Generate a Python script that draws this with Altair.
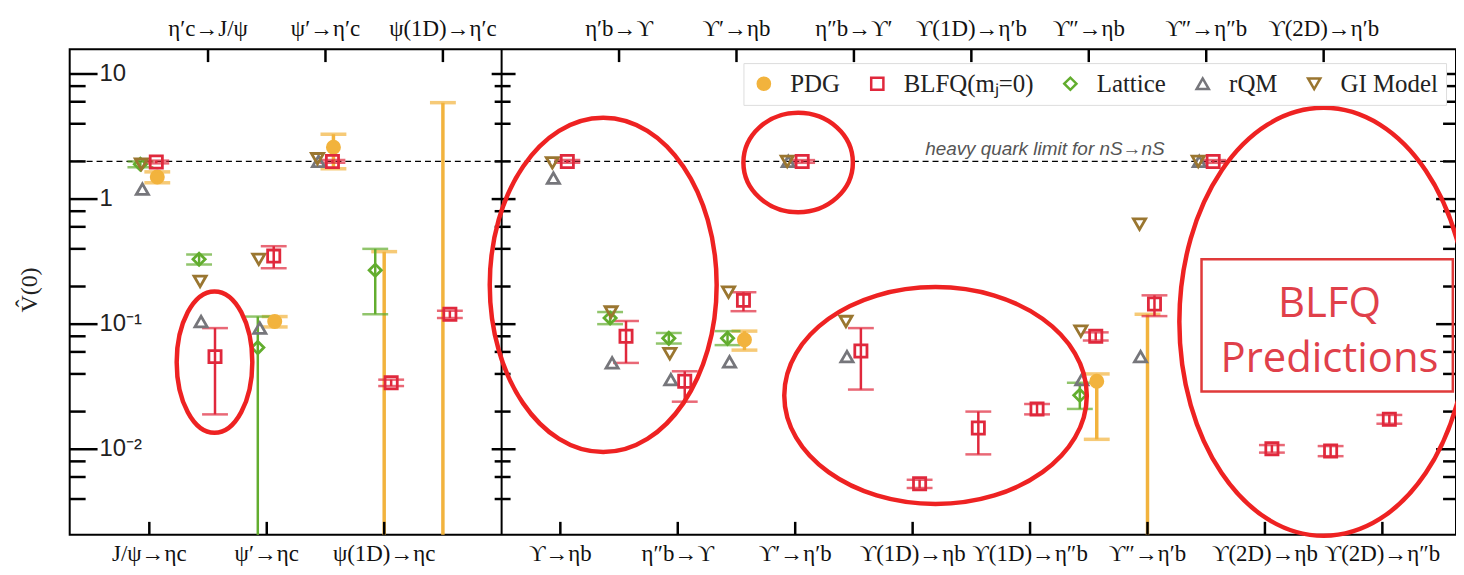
import altair as alt
import pandas as pd

# ------------------------------------------------------------------ data
charm_transitions = ["J/ψ→ηc", "η′c→J/ψ", "ψ′→ηc", "ψ′→η′c", "ψ(1D)→ηc", "ψ(1D)→η′c"]
bottom_transitions = ["ϒ→ηb", "η′b→ϒ", "η″b→ϒ", "ϒ′→ηb", "ϒ′→η′b", "η″b→ϒ′",
                      "ϒ(1D)→ηb", "ϒ(1D)→η′b", "ϒ(1D)→η″b", "ϒ″→ηb", "ϒ″→η′b",
                      "ϒ″→η″b", "ϒ(2D)→ηb", "ϒ(2D)→η′b", "ϒ(2D)→η″b"]
transitions = charm_transitions + bottom_transitions

N = None
# order of every list: 6 charmonium transitions, then 15 bottomonium transitions
pdg_val = [1.50, N, 0.105, 2.60, N, N,
           N, N, N, 0.075, N, N, N, N, N, 0.035, N, N, N, N, N]
pdg_lo = [1.35, N, 0.095, 1.75, 0.001, 0.001,
          N, N, N, 0.062, N, N, N, N, N, 0.012, 0.001, N, N, N, N]
pdg_hi = [1.65, N, 0.115, 3.30, 0.38, 5.9,
          N, N, N, 0.088, N, N, N, N, N, 0.040, 0.12, N, N, N, N]

lat_val = [1.90, 0.33, 0.065, N, 0.27, N,
           N, 0.112, 0.077, 0.077, N, N, N, N, N, 0.027, N, N, N, N, N]
lat_lo = [1.80, 0.30, 0.001, N, 0.12, N,
          N, 0.100, 0.070, 0.068, N, N, N, N, N, 0.021, N, N, N, N, N]
lat_hi = [2.00, 0.36, 0.115, N, 0.40, N,
          N, 0.125, 0.085, 0.088, N, N, N, N, N, 0.034, N, N, N, N, N]

rqm_val = [1.20, 0.105, 0.093, 2.00, N, N,
           1.47, 0.049, 0.036, 0.050, 2.00, 0.055, N, N, N, 0.036, 0.055, 2.00, N, N, N]
gi_val = [1.90, 0.22, 0.33, 2.10, N, N,
          1.95, 0.125, 0.058, 0.18, 2.00, 0.105, N, N, N, 0.088, 0.63, 2.00, N, N, N]

blfq_val = [1.98, 0.055, 0.35, 2.00, 0.034, 0.120,
            2.00, 0.080, 0.035, 0.155, 2.00, 0.061, 0.0053, 0.0148, 0.021,
            0.080, 0.145, 2.00, 0.0101, 0.0097, 0.0174]
blfq_lo = [1.93, 0.019, 0.28, 1.95, 0.032, 0.112,
           1.95, 0.049, 0.024, 0.127, 1.95, 0.030, 0.0049, 0.0091, 0.019,
           0.074, 0.116, 1.95, 0.0094, 0.0088, 0.0160]
blfq_hi = [2.03, 0.093, 0.42, 2.05, 0.036, 0.128,
           2.05, 0.106, 0.042, 0.180, 2.05, 0.093, 0.0057, 0.020, 0.023,
           0.086, 0.170, 2.05, 0.0108, 0.0106, 0.0188]

series_names = ["PDG", "BLFQ(mⱼ=0)", "Lattice", "rQM", "GI Model"]
heavy_quark_limit = 2.0

major_ticks = [0.01, 0.1, 1, 10]
major_labels = ["10⁻²", "10⁻¹", "1", "10"]
minor_ticks = [0.004, 0.006, 0.008, 0.02, 0.04, 0.06, 0.08,
               0.2, 0.4, 0.6, 0.8, 2, 4, 6, 8]

# annotations (centre in data coords)
ellipses = [  # x, value, rx(px), ry(px)
    (1.11, 0.0497, 38, 71),
    (7.73, 0.206, 114, 168),
    (11.05, 1.96, 55, 50),
    (13.39, 0.0269, 152, 109),
    (20.0, 0.1044, 145, 215),
]
box = {"x": [17.92], "x2": [22.2], "v": [0.331], "v2": [0.029]}
box_lines = ["BLFQ", "Predictions"]
box_line_v = [0.1144, 0.0418]
box_text_x = 20.1
limit_text = "heavy quark limit for nS→nS"
limit_text_x = 17.29

# ------------------------------------------------------------------ layout / style
W, H = 1393, 488
XMIN, XMAX = -1.356, 22.254
YMIN, YMAX = 0.00207, 15.8
PX = W / (XMAX - XMIN)

C_PDG = "#f2b33d"
C_BLFQ = "#e0283c"
C_LAT = "#62ad2e"
C_RQM = "#76767b"
C_GI = "#9a7630"
C_ELL = "#ee2222"
SERIF = "Liberation Serif"
SANS = "Liberation Sans"

cat_x = list(range(6)) + list(range(7, 22))
divider_x = 6
dodge = {"PDG": 8, "PDGlim": 0, "Lattice": -9, "rQM": -7, "GI Model": -8, "BLFQ(mⱼ=0)": 7}

xs = alt.Scale(domain=[XMIN, XMAX], nice=False, zero=False)
ys = alt.Scale(type="log", domain=[YMIN, YMAX], nice=False, clamp=True)


def X(f="x"):
    return alt.X(f"{f}:Q", scale=xs, axis=None)


def Y(f="v"):
    return alt.Y(f"{f}:Q", scale=ys, axis=None)


# points
rows = []
for name, vals in [("PDG", pdg_val), ("Lattice", lat_val), ("rQM", rqm_val),
                   ("GI Model", gi_val), ("BLFQ(mⱼ=0)", blfq_val)]:
    for i, v in enumerate(vals):
        if v is not None:
            rows.append({"series": name, "x": cat_x[i] + dodge[name] / PX, "v": v})
pts = pd.DataFrame(rows)


# error bars
def err_df(vals, lo, hi, name):
    out = []
    for i in range(len(lo)):
        if lo[i] is None:
            continue
        key = name if (vals[i] is not None) else ("PDGlim" if name == "PDG" else name)
        out.append({"x": cat_x[i] + dodge[key] / PX, "lo": lo[i], "hi": hi[i]})
    return pd.DataFrame(out)


err_pdg = err_df(pdg_val, pdg_lo, pdg_hi, "PDG")
err_lat = err_df(lat_val, lat_lo, lat_hi, "Lattice")
err_blfq = err_df(blfq_val, blfq_lo, blfq_hi, "BLFQ(mⱼ=0)")


def err_layers(df, color, width):
    bars = alt.Chart(df).mark_rule(color=color, strokeWidth=width).encode(
        x=X(), y=Y("lo"), y2=alt.Y2("hi:Q"))
    caps_hi = alt.Chart(df).mark_tick(orient="horizontal", color=color, size=26,
                                      thickness=width).encode(x=X(), y=Y("hi"))
    caps_lo = alt.Chart(df).transform_filter(f"datum.lo >= {YMIN}").mark_tick(
        orient="horizontal", color=color, size=26, thickness=width).encode(x=X(), y=Y("lo"))
    return [bars, caps_hi, caps_lo]


cats = pd.DataFrame({
    "label": transitions,
    "x": cat_x,
    "side": ["bottom" if (i % 2 == 0) else "top" for i in range(6)]
            + ["bottom" if (j % 2 == 0) else "top" for j in range(15)],
})

majors = pd.DataFrame({"v": major_ticks, "label": major_labels})
minors = pd.DataFrame({"v": minor_ticks})

layers = []

# heavy-quark limit
hq = pd.DataFrame({"v": [heavy_quark_limit]})
layers.append(alt.Chart(hq).mark_rule(color="black", strokeDash=[6, 4], strokeWidth=1.3)
              .encode(y=Y()))
layers.append(alt.Chart(hq).mark_text(text=limit_text, align="right", baseline="alphabetic",
                                      dy=-6, font=SANS, fontSize=19, fontStyle="italic",
                                      color="#555555")
              .encode(x=alt.X(datum=limit_text_x, scale=xs, axis=None), y=Y()))

# divider between the two panels
layers.append(alt.Chart(hq).mark_rule(color="black", strokeWidth=2)
              .encode(x=alt.X(datum=divider_x, scale=xs, axis=None)))

# error bars
layers += err_layers(err_pdg, C_PDG, 3.5)
layers += err_layers(err_lat, C_LAT, 2.5)
layers += err_layers(err_blfq, C_BLFQ, 2.5)

# points with legend
leg = alt.Legend(orient="none", legendX=677, legendY=14, direction="horizontal", title=None,
                 labelFont=SERIF, labelFontSize=25, labelColor="#222222",
                 symbolSize=150, symbolStrokeWidth=2.5, labelOffset=14, columnPadding=24,
                 fillColor="white", strokeColor="#dddddd", padding=8, labelLimit=400)
layers.append(
    alt.Chart(pts).mark_point(size=150, strokeWidth=2.8, opacity=1).encode(
        x=X(), y=Y(),
        shape=alt.Shape("series:N", scale=alt.Scale(
            domain=series_names,
            range=["circle", "square", "diamond", "triangle-up", "triangle-down"]), legend=leg),
        stroke=alt.Stroke("series:N", scale=alt.Scale(
            domain=series_names, range=[C_PDG, C_BLFQ, C_LAT, C_RQM, C_GI]), legend=leg),
        fill=alt.Fill("series:N", scale=alt.Scale(
            domain=series_names,
            range=[C_PDG, "transparent", "transparent", "transparent", "transparent"]), legend=leg),
    )
)

# y ticks (inward) on left edge, on the divider (both sides) and on right edge
layers.append(alt.Chart(majors).mark_rule(color="black", strokeWidth=2.5)
              .encode(y=Y(), x=alt.value(0), x2=alt.value(28)))
layers.append(alt.Chart(minors).mark_rule(color="black", strokeWidth=2.5)
              .encode(y=Y(), x=alt.value(0), x2=alt.value(16)))
layers.append(alt.Chart(majors).mark_rule(color="black", strokeWidth=2.5, xOffset=-10, x2Offset=14)
              .encode(y=Y(), x=alt.X(datum=divider_x, scale=xs, axis=None),
                      x2=alt.X2(datum=divider_x)))
layers.append(alt.Chart(minors).mark_rule(color="black", strokeWidth=2.5, xOffset=-7, x2Offset=9)
              .encode(y=Y(), x=alt.X(datum=divider_x, scale=xs, axis=None),
                      x2=alt.X2(datum=divider_x)))
layers.append(alt.Chart(majors).mark_rule(color="black", strokeWidth=2.5)
              .encode(y=Y(), x=alt.value(W - 20), x2=alt.value(W)))
layers.append(alt.Chart(minors).mark_rule(color="black", strokeWidth=2.5)
              .encode(y=Y(), x=alt.value(W - 13), x2=alt.value(W)))
layers.append(alt.Chart(majors).mark_text(align="left", baseline="middle", font=SANS,
                                          fontSize=24, color="#222222")
              .encode(y=Y(), x=alt.value(30), text="label:N"))

# x ticks and category labels
layers.append(alt.Chart(cats).transform_filter("datum.side == 'top'")
              .mark_rule(color="black", strokeWidth=2.5)
              .encode(x=X(), y=alt.value(0), y2=alt.value(13)))
layers.append(alt.Chart(cats).transform_filter("datum.side == 'bottom'")
              .mark_rule(color="black", strokeWidth=2.5)
              .encode(x=X(), y=alt.value(H - 13), y2=alt.value(H)))
layers.append(alt.Chart(cats).transform_filter("datum.side == 'top'")
              .mark_text(baseline="alphabetic", font=SERIF, fontSize=23, color="#111111")
              .encode(x=X(), y=alt.value(-13), text="label:N"))
layers.append(alt.Chart(cats).transform_filter("datum.side == 'bottom'")
              .mark_text(baseline="alphabetic", font=SERIF, fontSize=23, color="#111111")
              .encode(x=X(), y=alt.value(H + 26), text="label:N"))

# y title
layers.append(alt.Chart(hq).mark_text(text="V̂(0)", angle=270, font=SERIF, fontSize=24,
                                      color="#222222", baseline="middle")
              .encode(x=alt.value(-40), y=alt.value(H / 2 - 2)))

# red annotations
for (cx, cv, rx, ry) in ellipses:
    path = f"M {-rx},0 A {rx},{ry} 0 1,0 {rx},0 A {rx},{ry} 0 1,0 {-rx},0 Z"
    layers.append(alt.Chart(pd.DataFrame({"x": [cx], "v": [cv]}))
                  .mark_point(shape=path, size=4, filled=False, color=C_ELL, stroke=C_ELL,
                              strokeWidth=4.5, opacity=1)
                  .encode(x=X(), y=Y()))
layers.append(alt.Chart(pd.DataFrame(box)).mark_rect(fillOpacity=0, stroke="#e03a3a",
                                                      strokeWidth=2.5)
              .encode(x=X("x"), x2=alt.X2("x2:Q"), y=Y("v"), y2=alt.Y2("v2:Q")))
layers.append(alt.Chart(pd.DataFrame({"t": box_lines, "v": box_line_v, "x": [box_text_x] * 2}))
              .mark_text(baseline="alphabetic", font="Open Sans", fontSize=42, color="#e0404a")
              .encode(x=X(), y=Y(), text="t:N"))

chart = alt.layer(*layers).properties(
    width=W, height=H,
    autosize=alt.AutoSizeParams(type="none"),
    padding={"left": 62, "top": 40, "right": 0, "bottom": 30},
    background="white",
).configure_view(stroke="black", strokeWidth=2)

chart.save("out.html", embed_options={"renderer": "svg", "actions": False})
